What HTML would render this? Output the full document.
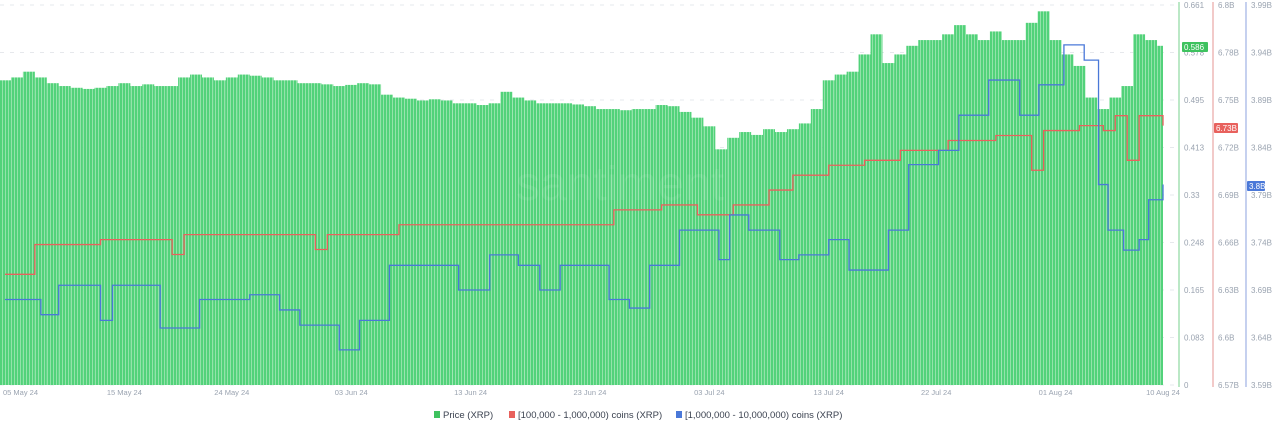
<!DOCTYPE html>
<html><head><meta charset="utf-8"><style>
body{margin:0;background:#fff;font-family:"Liberation Sans",sans-serif;}
svg{display:block}
</style></head><body>
<svg id="chart" width="1280" height="433" xmlns="http://www.w3.org/2000/svg">
<defs><pattern id="stripes" patternUnits="userSpaceOnUse" width="3" height="10"><rect x="0" y="0" width="2" height="10" fill="#52d27a"/><rect x="2" y="0" width="1" height="10" fill="#93e3aa"/></pattern></defs>
</svg>
<script>
const priceVals=[0.53,0.535,0.545,0.535,0.525,0.52,0.517,0.515,0.517,0.52,0.525,0.52,0.523,0.52,0.52,0.535,0.54,0.535,0.53,0.535,0.54,0.538,0.535,0.53,0.53,0.525,0.525,0.523,0.52,0.522,0.525,0.523,0.505,0.5,0.498,0.495,0.497,0.495,0.49,0.49,0.487,0.49,0.51,0.5,0.495,0.49,0.49,0.49,0.488,0.485,0.48,0.48,0.478,0.48,0.48,0.487,0.485,0.475,0.465,0.45,0.41,0.43,0.44,0.435,0.445,0.44,0.445,0.455,0.48,0.53,0.54,0.545,0.575,0.61,0.56,0.575,0.59,0.6,0.6,0.61,0.626,0.61,0.6,0.615,0.6,0.6,0.63,0.65,0.6,0.575,0.555,0.5,0.48,0.5,0.52,0.61,0.6,0.59];
const redDays=[0,2.5,8,14,15,26,27,33,51,55,58,61,64,66,69,72,75,79,83,86,87,90,92,93,94,95,97];
const redVals=[6.637,6.655,6.658,6.649,6.661,6.652,6.661,6.667,6.676,6.679,6.673,6.679,6.688,6.697,6.703,6.706,6.712,6.718,6.721,6.700,6.724,6.727,6.724,6.733,6.706,6.733,6.727];
const blueDays=[0,3,4.5,8,9,13,16.3,20.5,23,24.7,28,29.7,32.2,38,40.6,43,44.8,46.5,50.6,52.3,54,56.5,59.8,60.7,62.3,64.9,66.5,69,70.7,74,75.7,78.2,79.9,82.4,85,86.6,88.7,90.4,91.6,92.4,93.7,95,95.8,97];
const blueVals=[3.680,3.664,3.695,3.658,3.695,3.650,3.680,3.685,3.669,3.653,3.627,3.658,3.716,3.690,3.727,3.716,3.690,3.716,3.680,3.671,3.716,3.753,3.722,3.769,3.753,3.722,3.727,3.743,3.711,3.753,3.822,3.837,3.874,3.911,3.874,3.906,3.948,3.932,3.801,3.753,3.732,3.743,3.785,3.801];
const xTickLabels=["05 May 24","15 May 24","24 May 24","03 Jun 24","13 Jun 24","23 Jun 24","03 Jul 24","13 Jul 24","22 Jul 24","01 Aug 24","10 Aug 24"];
const xTickDays=[0,10,19,29,39,49,59,69,78,88,97];
const priceTicks=["0","0.083","0.165","0.248","0.33","0.413","0.495","0.578","0.661"];
const redTicks=["6.57B","6.6B","6.63B","6.66B","6.69B","6.72B","6.75B","6.78B","6.8B"];
const blueTicks=["3.59B","3.64B","3.69B","3.74B","3.79B","3.84B","3.89B","3.94B","3.99B"];

const NS="http://www.w3.org/2000/svg";
const svg=document.getElementById('chart');
const topY=5,botY=385,x0=5,x1=1163;
const X=d=>x0+(x1-x0)*d/97;
const YP=v=>botY-(botY-topY)*v/0.661;
const YR=v=>botY-(botY-topY)*(v-6.57)/0.23;
const YB=v=>botY-(botY-topY)*(v-3.59)/0.4;
function el(t,a,p){const e=document.createElementNS(NS,t);for(const k in a)e.setAttribute(k,a[k]);(p||svg).appendChild(e);return e;}
for(let i=0;i<priceTicks.length;i++){const y=botY-(botY-topY)*i/8;
 const g=el('line',{x1:0,x2:1176,y1:y,y2:y,stroke:'#e6e8ec','stroke-dasharray':'4 6'});
 
 }
const bw=(x1-x0)/97;
priceVals.forEach((v,i)=>{const xl=Math.max(0,X(i)-bw/2);const xr=Math.min(x1,X(i)+bw/2);
 const r=el('rect',{x:xl,y:YP(v),width:xr-xl,height:botY-YP(v),fill:'url(#stripes)'});
 
 });
const wm=el('text',{x:620,y:200,'font-size':48,fill:'#fff','fill-opacity':0.08,'text-anchor':'middle'});wm.textContent='santiment';


function step(days,vals,Y,color,name){let d='';days.forEach((dd,i)=>{const x=X(dd),y=Y(vals[i]);
 if(i===0)d+=`M${x},${y}`;else d+=`H${x}V${y}`;});d+=`H${x1}`;
 const p=el('path',{d:d,fill:'none',stroke:color,'stroke-width':1.3});
 
 }
step(redDays,redVals,YR,'#e8615d','red-holders-line');
step(blueDays,blueVals,YB,'#4a78d8','blue-holders-line');
[[1179,'#8ed9a0',priceTicks,'price-axis'],[1213,'#e9a7a5',redTicks,'red-axis'],[1246,'#9fb2e4',blueTicks,'blue-axis']].forEach(([x,c,t,n])=>{
 const l=el('line',{x1:x,x2:x,y1:2,y2:botY+2,stroke:c,'stroke-width':1.2});
 
 
 t.forEach((s,i)=>{const tx=el('text',{x:x+5,y:botY-(botY-topY)*i/8+3,'font-size':8,fill:'#9aa3b0'});tx.textContent=s;
 
 });});
xTickLabels.forEach((s,i)=>{const x=X(xTickDays[i]);const t=el('text',{x:i===0?3:x,y:395,'font-size':7.5,fill:'#9aa3b0','text-anchor':i===0?'start':'middle'});t.textContent=s;
 
 });
[[1182,47,'#3ec25f','0.586',26],[1214,128,'#e8615d','6.73B',24],[1247,186,'#4a78d8','3.8B',18]].forEach(([x,y,c,s,w])=>{
 const g=el('g',{});
 
 
 el('rect',{x:x,y:y-5,width:w,height:10,fill:c,rx:1},g);
 const t=el('text',{x:x+2,y:y+3,'font-size':8,fill:'#fff'},g);t.textContent=s;});
[[434,'#3ec25f','Price (XRP)'],[509,'#e8615d','[100,000  - 1,000,000) coins (XRP)'],[676,'#4a78d8','[1,000,000 - 10,000,000) coins (XRP)']].forEach(([x,c,s])=>{
 const g=el('g',{});
 
 
 el('rect',{x:x,y:411,width:6,height:7,fill:c},g);
 const t=el('text',{x:x+9,y:418,'font-size':9.5,fill:'#3b4250'},g);t.textContent=s;});
</script>
</body></html>
